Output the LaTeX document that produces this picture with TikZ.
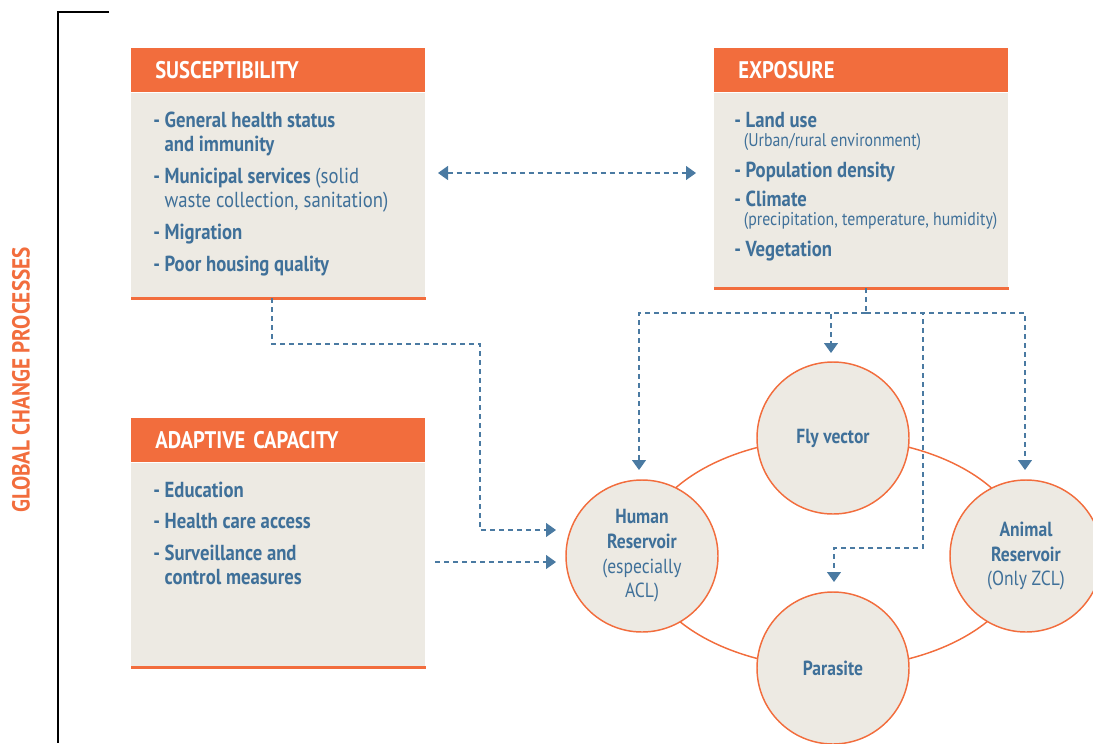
\documentclass[tikz,border=0pt]{standalone}
\usepackage{fontspec}
\setmainfont[FakeStretch=0.86]{PT Sans}
\usetikzlibrary{arrows.meta,positioning}

\definecolor{orng}{HTML}{F26D3D}
\definecolor{sand}{HTML}{EDEAE3}
\definecolor{slate}{HTML}{3F7099}
\definecolor{linkblue}{HTML}{4A7AA2}
\newcommand{\ind}{\hphantom{\bfseries - }}
\newcommand{\tightlines}{\lineskiplimit=-20pt\relax}

\begin{document}
\begin{tikzpicture}[x=0.75pt,y=-0.75pt,
        head/.style={fill=orng,text=white,anchor=north west,inner sep=0pt,inner xsep=18pt,
            minimum height=33pt,text width=184.5pt,align=left,
            font=\bfseries\fontsize{18}{20}\selectfont},
        panel/.style={fill=sand,minimum width=220.5pt,inner sep=0pt},
        items/.style={anchor=north west,inner sep=0pt,align=left,text=slate,
            font=\bfseries\fontsize{16.3}{18}\selectfont\tightlines},
        host/.style={circle,fill=sand,draw=orng,line width=1.1pt,minimum size=114pt,
            inner sep=0pt,align=center,text=slate,font=\bfseries\fontsize{15.3}{18.5}\selectfont},
        link/.style={draw=linkblue,line width=1pt,dash pattern=on 3.75pt off 3pt},
        tip/.style={-{Triangle[width=10.5pt,length=7.5pt]}}]

    \useasboundingbox (0,0) rectangle (1093,743);
    \clip (0,0) rectangle (1093,743);

    % side label and bracket
    \node[rotate=90,text=orng,font=\bfseries\fontsize{18.5}{20}\selectfont] (gcp) at (21,380) {GLOBAL CHANGE PROCESSES};
    \draw[line width=1.1pt] (109,12) -- (58,12) -- (58,743);

    % susceptibility
    \node[head] (suscHead) at (131,48) {SUSCEPTIBILITY};
    \node[panel,minimum height=153.75pt] (suscBody) [below=0pt of suscHead] {};
    \draw[orng,line width=2.2pt] (suscBody.south west) -- (suscBody.south east);
    \node[items] (suscList) [below right=14.5pt and 16.5pt of suscHead.south west]
        {- General health status\\
         \ind and immunity\\[6pt]
         - Municipal services {\mdseries (solid}\\
         {\mdseries\ind waste collection, sanitation)}\\[6pt]
         - Migration\\[6pt]
         - Poor housing quality};

    % exposure
    \node[head] (expoHead) at (714,48) {EXPOSURE};
    \node[panel,minimum height=146.25pt] (expoBody) [below=0pt of expoHead] {};
    \draw[orng,line width=2.2pt] (expoBody.south west) -- (expoBody.south east);
    \node[items,font=\bfseries\fontsize{16.3}{14}\selectfont\tightlines] (expoList) [below right=14.5pt and 15pt of expoHead.south west]
        {- Land use\\
         {\mdseries\fontsize{13.8}{14}\selectfont\ind (Urban/rural environment)}\\[9.5pt]
         - Population density\\[8pt]
         - Climate\\
         {\mdseries\fontsize{13.8}{14}\selectfont\ind (precipitation, temperature, humidity)}\\[9.5pt]
         - Vegetation};

    % adaptive capacity
    \node[head] (adapHead) at (131,418) {ADAPTIVE CAPACITY};
    \node[panel,minimum height=153pt] (adapBody) [below=0pt of adapHead] {};
    \draw[orng,line width=2.2pt] (adapBody.south west) -- (adapBody.south east);
    \node[items] (adapList) [below right=14.5pt and 16.5pt of adapHead.south west]
        {- Education\\[5pt]
         - Health care access\\[6pt]
         - Surveillance and\\
         \ind control measures};

    % transmission cycle
    \draw[orng,line width=1.1pt] (833.5,553) ellipse [x radius=143.6pt,y radius=86.25pt];
    \node[host] (fly) at (833,438) {Fly vector};
    \node[host] (human) at (642,556) {Human\\Reservoir\\{\mdseries (especially}\\{\mdseries ACL)}};
    \node[host] (animal) at (1026,556) {Animal\\Reservoir\\{\mdseries (Only ZCL)}};
    \node[host] (parasite) at (833,668) {Parasite};

    % connectors
    \coordinate (bothL) at (438,173);
    \coordinate (bothR) at (696,173);
    \draw[link,{Triangle[width=10.5pt,length=7.5pt]}-{Triangle[width=10.5pt,length=7.5pt]}] (bothL) -- (bothR);

    \coordinate (sTap) at (272,298);
    \coordinate (sBend) at (480,344);
    \coordinate (hIn1) at (556,530);
    \draw[link,tip] (sTap) |- (sBend) |- (hIn1);

    \coordinate (aTap) at (435,562);
    \coordinate (hIn2) at (556,562);
    \draw[link,tip] (aTap) -- (hIn2);

    \coordinate (eTap) at (866,288);
    \coordinate (eJoin) at (866,313);
    \coordinate (hTop) at (639,470);
    \coordinate (fTop) at (831,353);
    \coordinate (aTop) at (1025,470);
    \coordinate (pBend) at (923,548);
    \coordinate (pTop) at (834,582);
    \draw[link] (eTap) -- (eJoin);
    \draw[link,tip] (eJoin) -| (hTop);
    \draw[link,tip] (eJoin) -| (fTop);
    \draw[link,tip] (eJoin) -| (aTop);
    \draw[link,tip] (eJoin) -| (pBend) -| (pTop);
\end{tikzpicture}
\end{document}
